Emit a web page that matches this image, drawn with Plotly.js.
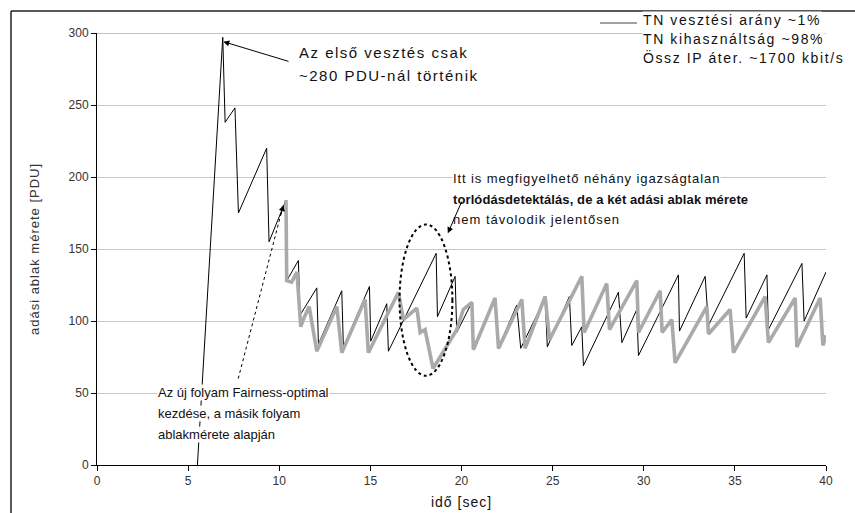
<!DOCTYPE html>
<html>
<head>
<meta charset="utf-8">
<script src="https://cdn.plot.ly/plotly-3.0.1.min.js"></script>
<style>
  html, body { margin: 0; padding: 0; background: #ffffff; }
  #chart { width: 855px; height: 513px; }
</style>
</head>
<body>
<div id="chart"></div>
<script>
// Flow 1 (black): congestion window over time
const flow1Time = [5.51, 6.90, 7.03, 7.57, 7.76, 9.31, 9.44, 10.37, 10.41, 11.05,
  11.14, 12.06, 12.15, 13.43, 13.52, 14.95, 15.02, 15.90, 15.99, 18.61,
  18.68, 19.65, 19.74, 20.57, 20.69, 21.84, 22.01, 23.03, 23.25, 24.59,
  24.71, 25.92, 26.05, 26.60, 26.69, 28.61, 28.80, 29.62, 29.71, 31.90,
  31.96, 33.37, 33.55, 35.51, 35.62, 36.76, 36.84, 38.68, 38.80, 40.0];
const flow1Window = [0, 297, 238, 248, 175, 220, 155, 184, 128, 142,
  104, 123, 84, 121, 82, 124, 86, 112, 79, 147,
  103, 131, 92, 113, 80, 115, 81, 111, 81, 116,
  82, 117, 83, 96, 69, 120, 85, 108, 76, 132,
  93, 131, 97, 147, 102, 132, 94, 140, 100, 134];

// Flow 2 (gray): starts at ~10.4 s with a fairness-optimal window
const flow2Time = [10.37, 10.41, 10.68, 10.97, 11.18, 11.32, 11.64, 12.06, 13.16, 13.43,
  14.71, 14.89, 16.54, 16.81, 17.55, 17.73, 18.00, 18.44, 19.74, 20.10,
  20.57, 20.65, 21.84, 22.03, 23.31, 23.49, 24.59, 24.83, 26.60, 26.73,
  27.97, 28.12, 29.62, 29.71, 30.90, 31.01, 31.54, 31.72, 33.46, 33.55,
  34.74, 34.92, 36.66, 36.84, 38.31, 38.40, 39.68, 39.83, 40.0];
const flow2Window = [184, 128, 127, 134, 96, 101, 110, 79, 110, 78,
  115, 78, 120, 101, 109, 92, 94, 67, 94, 108,
  113, 80, 116, 81, 115, 81, 117, 87, 131, 92,
  126, 94, 128, 92, 121, 92, 101, 71, 110, 91,
  108, 78, 117, 85, 116, 82, 116, 83, 90];

// Axis ticks
const xTicks = [0, 5, 10, 15, 20, 25, 30, 35, 40];
const yTicks = [0, 50, 100, 150, 200, 250, 300];

// Text blocks
const firstLossLines = ['Az első vesztés csak', '~280 PDU-nál történik'];
const statsLines = ['TN vesztési arány ~1%', 'TN kihasználtság ~98%', 'Össz IP áter. ~1700 kbit/s'];
const unfairLines = ['Itt is megfigyelhető néhány igazságtalan',
  'torlódásdetektálás, de a két adási ablak mérete',
  'nem távolodik jelentősen'];
const newFlowLines = ['Az új folyam Fairness-optimal', 'kezdése, a másik folyam', 'ablakmérete alapján'];

const FONT = 'Arial, "Liberation Sans", sans-serif';
const W = 855, H = 513;
const M = { l: 97, r: 29, t: 33, b: 48 };
const plotW = W - M.l - M.r, plotH = H - M.t - M.b;
// pixel position -> paper fraction helpers for text placement
const px = v => (v - M.l) / plotW;
const py = v => (H - M.b - v) / plotH;
const spaced = (t, s) => '<span style="letter-spacing:' + s + 'px">' + t + '</span>';

const traces = [
  {
    x: flow1Time, y: flow1Window, type: 'scatter', mode: 'lines',
    line: { color: '#000000', width: 1 }, hoverinfo: 'skip', showlegend: false
  },
  {
    x: flow2Time, y: flow2Window, type: 'scatter', mode: 'lines',
    line: { color: '#aaaaaa', width: 3.6 }, hoverinfo: 'skip', showlegend: false
  }
];

const annotations = [];
// one annotation per text line; style = [letterSpacing, bold] per line
function addLines(lines, xPix, yPixList, size, styles) {
  lines.forEach((t, i) => {
    const st = styles[i];
    let txt = st[0] ? spaced(t, st[0]) : t;
    if (st[1]) txt = '<b>' + txt + '</b>';
    annotations.push({
      xref: 'paper', yref: 'paper', x: px(xPix), y: py(yPixList[i]),
      xanchor: 'left', yanchor: 'middle', showarrow: false,
      text: txt,
      font: { family: FONT, size: size, color: '#111111' },
      bgcolor: 'rgba(255,255,255,0.95)', borderpad: 0
    });
  });
}
addLines(firstLossLines, 298, [53, 75], 15, [[1.5, false], [1.5, false]]);
addLines(statsLines, 642, [20, 39, 57], 14, [[1.6, false], [1.6, false], [1.6, false]]);
addLines(unfairLines, 452, [178, 199, 219], 13, [[0.9, false], [0.1, true], [1.0, false]]);
addLines(newFlowLines, 157, [392, 413, 434], 13, [[0, false], [0, false], [0, false]]);

// arrows
annotations.push({
  x: 6.93, y: 294, xref: 'x', yref: 'y', axref: 'x', ayref: 'y', ax: 10.59, ay: 280,
  text: '', showarrow: true, arrowhead: 2, arrowsize: 1.2, arrowwidth: 1, arrowcolor: '#000'
});
annotations.push({
  x: 19.25, y: 161, xref: 'x', yref: 'y', axref: 'x', ayref: 'y', ax: 20.05, ay: 184,
  text: '', showarrow: true, arrowhead: 2, arrowsize: 1.2, arrowwidth: 1, arrowcolor: '#000'
});
// head of the dotted pointer
annotations.push({
  x: 10.23, y: 180.5, xref: 'x', yref: 'y', ax: -3, ay: 11,
  text: '', showarrow: true, arrowhead: 2, arrowsize: 1.2, arrowwidth: 1, arrowcolor: '#000'
});

const shapes = [
  // darker top boundary of the plot area
  { type: 'line', xref: 'paper', yref: 'y', x0: 0, x1: 1, y0: 300, y1: 300,
    line: { color: '#8a8a8a', width: 1 } },
  // dotted pointer to the start of the new flow
  { type: 'line', xref: 'x', yref: 'y', x0: 7.75, y0: 60, x1: 10.15, y1: 177,
    line: { color: '#000', width: 1, dash: 'dot' } },
  // dotted ellipse around the unfair detections
  { type: 'circle', xref: 'x', yref: 'y', x0: 16.6, x1: 19.5, y0: 62, y1: 167,
    line: { color: '#000', width: 2, dash: 'dot' } },
  // outer frame (left and top)
  { type: 'line', xref: 'paper', yref: 'paper', x0: px(11), x1: px(11), y0: py(11), y1: py(513),
    line: { color: '#222', width: 1.5 } },
  { type: 'line', xref: 'paper', yref: 'paper', x0: px(11), x1: px(855), y0: py(11), y1: py(11),
    line: { color: '#222', width: 1.5 } },
  { type: 'line', xref: 'paper', yref: 'paper', x0: px(600), x1: px(637), y0: py(23), y1: py(23),
    line: { color: '#444', width: 1 } }
];

const layout = {
  width: W, height: H,
  margin: M,
  paper_bgcolor: '#ffffff', plot_bgcolor: '#ffffff',
  font: { family: FONT, color: '#333333' },
  xaxis: {
    range: [0, 40], tickvals: xTicks, ticktext: xTicks.map(String),
    showgrid: false, zeroline: false,
    showline: true, linecolor: '#000', linewidth: 1,
    ticks: 'outside', ticklen: 5, tickcolor: '#000',
    tickfont: { family: FONT, size: 12, color: '#333' },
    title: { text: spaced('idő [sec]', 1), font: { family: FONT, size: 14, color: '#111' }, standoff: 9 }
  },
  yaxis: {
    range: [0, 300], tickvals: yTicks, ticktext: yTicks.map(String),
    showgrid: true, gridcolor: '#c8c8c8', gridwidth: 1, zeroline: false,
    showline: true, linecolor: '#000', linewidth: 1,
    ticks: 'outside', ticklen: 5, tickcolor: '#000',
    tickfont: { family: FONT, size: 12, color: '#333' },
    title: { text: spaced('adási ablak mérete [PDU]', 1), font: { family: FONT, size: 13, color: '#333' }, standoff: 26 }
  },
  annotations: annotations,
  shapes: shapes
};

Plotly.newPlot('chart', traces, layout, { staticPlot: true, displayModeBar: false });
</script>
</body>
</html>
